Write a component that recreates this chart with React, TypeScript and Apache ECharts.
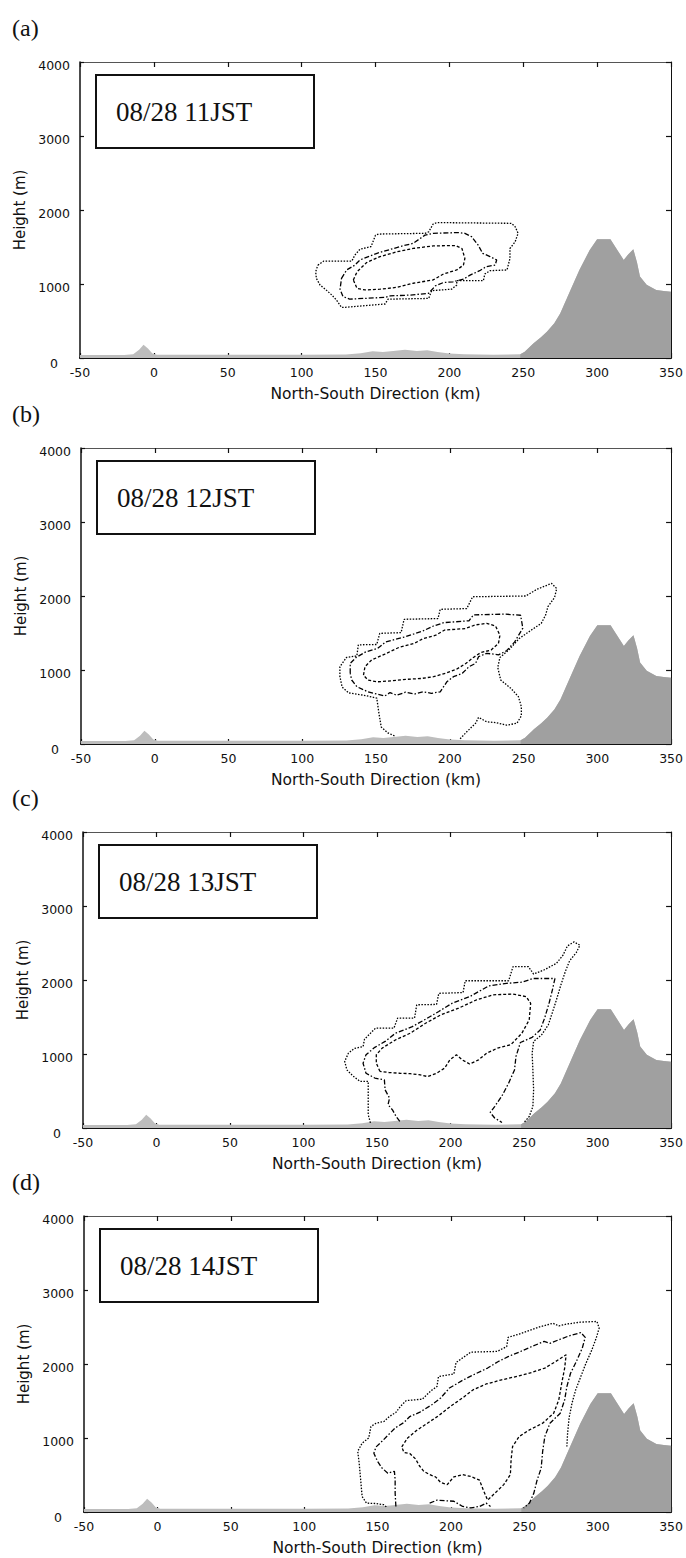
import React, { useEffect, useRef } from "react";
import * as echarts from "echarts";

// ---------- axes ----------
const X_MIN = -50;
const X_MAX = 350;
const X_STEP = 50;
const Y_MIN = 0;
const Y_MAX = 4000;
const Y_STEP = 1000;
const X_TITLE = "North-South Direction (km)";
const Y_TITLE = "Height (m)";

// ---------- panels ----------
const panelLetters = ["(a)", "(b)", "(c)", "(d)"];
const panelTimes = ["08/28 11JST", "08/28 12JST", "08/28 13JST", "08/28 14JST"];

// ---------- terrain (km, m) ----------
const terrainKm = [-50, -20, -14, -10, -7, -4, -1, 2, 40, 100, 130, 140, 148, 155, 162, 170, 178, 185, 192, 200, 210, 230, 248, 251, 257, 262, 266, 271, 275, 282, 288, 295, 300, 309, 313, 318, 321, 324.5, 327, 329, 333.5, 340, 345, 350];
const terrainM = [40, 42, 50, 110, 180, 130, 60, 45, 45, 45, 48, 65, 90, 80, 95, 110, 95, 105, 80, 60, 50, 45, 50, 85, 200, 280, 355, 470, 600, 920, 1190, 1460, 1605, 1605, 1480, 1325, 1400, 1470, 1290, 1100, 990, 920, 905, 895];
const mountainStartKm = 248;

// ---------- contours [km, m] ----------
const aOuter = [[111,1255],[115,1310],[134,1310],[136,1390],[139.5,1470],[147,1505],[150,1660],[152,1675],[183.5,1685],[186,1705],[189,1810],[191.5,1830],[242,1820],[244.5,1775],[246.5,1685],[244.5,1570],[241,1480],[241,1345],[239,1190],[227.5,1180],[224,1135],[223,1045],[205,1045],[205,985],[201.5,930],[188,910],[186,805],[158.5,795],[156.5,730],[129.5,685],[127,685],[123.5,785],[120.5,850],[116,930],[112.5,985],[110,1075],[109.5,1165],[111,1255]];
const aMiddle = [[127,1075],[130.5,1190],[136,1255],[139.5,1325],[151,1415],[166.5,1505],[175.5,1550],[183.5,1660],[189,1685],[206,1695],[210.5,1685],[215,1640],[219.5,1525],[222.5,1415],[227.5,1370],[232,1325],[231,1255],[225,1235],[220.5,1180],[214,1120],[209.5,1065],[202.5,1030],[196,1020],[190.5,975],[186,875],[173.5,850],[160,840],[156.5,820],[132.5,795],[128,830],[126,930],[127,1075]];
const aInner = [[135,1055],[137.5,1165],[144,1290],[153,1370],[164.5,1435],[175.5,1480],[189,1515],[204,1520],[208.5,1480],[210.5,1345],[209.5,1255],[205,1190],[196,1135],[189,1055],[175.5,1010],[164.5,955],[153,930],[143,920],[137.5,940],[135,1055]];

const bOuter = [[162.5,110],[158,150],[153.5,230],[152,410],[150.5,620],[141.5,660],[131.5,690],[127,770],[125.5,910],[125.5,1045],[130,1170],[137,1190],[138,1340],[150.5,1345],[152.5,1495],[167,1505],[169,1685],[192,1695],[193.5,1820],[211.5,1830],[215.5,1990],[251.5,2000],[259,2090],[269,2170],[272.5,2100],[271,1980],[266.5,1855],[265,1745],[262,1630],[256,1550],[247,1425],[240,1270],[234,1170],[232.5,1035],[234.5,865],[241.5,750],[246.5,640],[248.5,505],[248.5,380],[245.5,280],[238.5,255],[231,290],[225,300],[219.5,360],[217.5,280],[211.5,165],[206.5,60]];
const bMiddle = [[132.5,955],[132.5,1090],[136.5,1170],[143,1245],[151,1290],[156.5,1380],[170,1450],[182,1530],[189,1595],[196,1640],[213,1665],[216,1745],[237,1755],[248,1740],[249.5,1565],[244,1380],[238.5,1260],[233,1205],[229.5,1215],[225,1225],[219.5,1180],[217.5,1090],[213,1045],[208.5,955],[202.5,910],[198,840],[193.5,705],[187.5,685],[182,705],[176,675],[170,700],[164,660],[159.5,695],[156,650],[150.5,675],[144.5,705],[137,775],[133.5,865],[132.5,955]];
const bInner = [[141.5,930],[142.5,1045],[147,1135],[156,1215],[165.5,1305],[176,1360],[182,1425],[190.5,1470],[196.5,1540],[210.5,1560],[217.5,1610],[225,1630],[231,1595],[234,1470],[233,1360],[228,1270],[221,1235],[216,1170],[211,1090],[204.5,1010],[197,955],[189,910],[180.5,885],[171.5,875],[161,855],[150.5,840],[144.5,865],[141.5,930]];

const cOuter = [[145.5,70],[144,180],[144,630],[138.5,630],[133.5,705],[129.5,785],[128,900],[130.5,1010],[134.5,1075],[140.5,1100],[141.5,1200],[149,1350],[161.5,1350],[164,1485],[175.5,1485],[177,1665],[190.5,1670],[192,1820],[208.5,1830],[210,1990],[239.5,1990],[242.5,2180],[253,2180],[256.5,2080],[263.5,2135],[272,2225],[276.5,2335],[279.5,2460],[284,2515],[288,2470],[285.5,2370],[281,2260],[278,2110],[275,1930],[272,1730],[269.5,1575],[266.5,1395],[262,1260],[256.5,1170],[255.5,1010],[256,785],[256.5,515],[256,290],[253.5,155],[250,75]];
const cMiddle = [[165.5,90],[163,155],[160.5,245],[157.5,315],[158.5,405],[155.5,515],[155,650],[148.5,675],[142.5,740],[140.5,875],[142.5,990],[148.5,1090],[155.5,1170],[162.5,1280],[174,1370],[183,1470],[192,1575],[201,1685],[213,1775],[226,1920],[238,1955],[248.5,1970],[256,2020],[271,2020],[269.5,1885],[267,1685],[264,1485],[261,1325],[255.5,1225],[247.5,1155],[244.5,965],[243.5,785],[239.5,605],[235,435],[230,290],[227,210],[230,135],[235,75]];
const cInner = [[152,765],[149.5,875],[149.5,990],[153.5,1080],[162.5,1190],[172.5,1280],[183,1415],[193.5,1530],[205.5,1620],[217.5,1730],[229,1800],[242.5,1810],[251.5,1775],[254.5,1685],[253.5,1460],[248.5,1280],[241,1125],[232,1080],[224.5,1010],[219,920],[213,865],[208,920],[204,990],[199.5,920],[196,810],[190.5,740],[184.5,695],[178.5,720],[172.5,735],[165.5,740],[158,750],[152,765]];

const dOuter = [[156,70],[154,100],[148.5,115],[142.5,120],[139.5,210],[138.5,435],[137.5,660],[136.5,820],[139.5,930],[144,1000],[145.5,1155],[149,1200],[154.5,1225],[158,1290],[162.5,1345],[165.5,1425],[169.5,1505],[180.5,1525],[186.5,1640],[190.5,1695],[191.5,1830],[202,1865],[203.5,2020],[213.5,2160],[231.5,2170],[238,2235],[239,2360],[246.5,2405],[261,2505],[269.5,2550],[273.5,2515],[279,2540],[288,2565],[299.5,2575],[301,2485],[299,2350],[296,2190],[292,2010],[288.5,1830],[285,1650],[282.5,1470],[280.5,1270],[279.5,1065],[279,885]];
const dMiddle = [[162.5,75],[162,255],[162,435],[161.5,550],[157,525],[153,595],[150,685],[147.5,795],[149,880],[153,955],[157.5,1045],[162,1135],[168,1210],[172,1290],[178.5,1345],[187,1450],[193,1540],[199,1675],[208,1780],[216.5,1865],[225,1945],[232,2030],[239,2100],[247,2165],[255,2235],[263.5,2305],[267.5,2280],[274.5,2335],[280.5,2380],[288.5,2425],[291.5,2360],[289.5,2215],[285.5,2035],[281.5,1875],[279,1695],[277.5,1515],[274.5,1335],[267.5,1200],[264,1020],[262.5,820],[261.5,595],[258.5,415],[256.5,255],[253.5,120],[249.5,55]];
const dInner = [[166.5,880],[170.5,1000],[176.5,1100],[184,1200],[191.5,1300],[199.5,1425],[208.5,1550],[215,1650],[224,1730],[234.5,1785],[246.5,1840],[255,1885],[264,1945],[271.5,2035],[278.5,2125],[277.5,1945],[275.5,1740],[273.5,1515],[270,1335],[262.5,1200],[253.5,1110],[246.5,1020],[242,885],[241,705],[240.5,505],[236,370],[230,255],[225,160],[222,300],[219.5,430],[213.5,480],[208,505],[202,475],[197.5,370],[193,400],[189.5,475],[185.5,505],[181.5,550],[178.5,625],[176,715],[172,790],[168,805],[166.5,880]];
const dBase = [[185.5,120],[190.5,160],[202,145],[208,75],[213.5,55],[219.5,75],[224,120],[227,75]];

const panelContours = [
  { outer: aOuter, middle: aMiddle, inner: aInner, extra: [] as number[][] },
  { outer: bOuter, middle: bMiddle, inner: bInner, extra: [] as number[][] },
  { outer: cOuter, middle: cMiddle, inner: cInner, extra: [] as number[][] },
  { outer: dOuter, middle: dMiddle, inner: dInner, extra: dBase },
];

// ---------- layout ----------
const GRIDS = [
  { left: 80, top: 62, width: 591 },
  { left: 81, top: 448, width: 592 },
  { left: 83, top: 832, width: 592 },
  { left: 84, top: 1216, width: 592 },
];
const GRID_H = 296;

const SANS = "DejaVu Sans";
const SERIF = "Liberation Serif";
const INK = "#111";

function buildOption() {
  const grid: any[] = [];
  const xAxis: any[] = [];
  const yAxis: any[] = [];
  const series: any[] = [];
  const graphic: any[] = [];

  const terrain = terrainKm.map((x, k) => [x, terrainM[k]]);
  const mountain = terrain.filter((p) => p[0] >= mountainStartKm);

  GRIDS.forEach((g, i) => {
    grid.push({ left: g.left, top: g.top, width: g.width, height: GRID_H, containLabel: false });

    xAxis.push({
      type: "value", gridIndex: i, min: X_MIN, max: X_MAX, interval: X_STEP, position: "bottom",
      name: X_TITLE, nameLocation: "middle", nameGap: 28,
      nameTextStyle: { fontFamily: SANS, fontSize: 15.5, color: INK },
      axisLine: { show: true, onZero: false, lineStyle: { color: INK, width: 2 } },
      axisTick: { show: true, inside: true, length: 5, lineStyle: { color: INK, width: 1.2 } },
      axisLabel: { show: true, margin: 8, fontFamily: SANS, fontSize: 12.5, color: INK, showMinLabel: true, showMaxLabel: true },
      splitLine: { show: false },
    });
    xAxis.push({
      type: "value", gridIndex: i, min: X_MIN, max: X_MAX, interval: X_STEP, position: "top",
      axisLine: { show: true, onZero: false, lineStyle: { color: "#555", width: 1 } },
      axisTick: { show: true, inside: true, length: 5, lineStyle: { color: INK, width: 1.2 } },
      axisLabel: { show: false },
      splitLine: { show: false },
    });
    yAxis.push({
      type: "value", gridIndex: i, min: Y_MIN, max: Y_MAX, interval: Y_STEP, position: "left",
      name: Y_TITLE, nameLocation: "middle", nameGap: 41, nameRotate: 90,
      nameTextStyle: { fontFamily: SANS, fontSize: 15, color: INK },
      axisLine: { show: true, onZero: false, lineStyle: { color: INK, width: 1.5 } },
      axisTick: { show: true, inside: true, length: 4, lineStyle: { color: INK, width: 1.2 } },
      axisLabel: {
        show: true, margin: 10,
        formatter: (v: number) => (v === 0 ? "{z|0}" : `{n|${v}}`),
        rich: {
          n: { fontFamily: SANS, fontSize: 12.5, color: INK, padding: [6, 0, 0, 0] },
          z: { fontFamily: SANS, fontSize: 12.5, color: INK, padding: [10, 12, 0, 0] },
        },
      },
      splitLine: { show: false },
    });
    yAxis.push({
      type: "value", gridIndex: i, min: Y_MIN, max: Y_MAX, interval: Y_STEP, position: "right",
      axisLine: { show: true, onZero: false, lineStyle: { color: INK, width: 1 } },
      axisTick: { show: true, inside: true, length: 5, lineStyle: { color: INK, width: 1.2 } },
      axisLabel: { show: false },
      splitLine: { show: false },
    });

    const xi = i * 2;
    const yi = i * 2;
    series.push({
      type: "line", xAxisIndex: xi, yAxisIndex: yi, data: terrain, symbol: "none", silent: true,
      lineStyle: { width: 0 }, areaStyle: { color: "#bdbdbd", opacity: 1 }, z: 1,
    });
    series.push({
      type: "line", xAxisIndex: xi, yAxisIndex: yi, data: mountain, symbol: "none", silent: true,
      lineStyle: { width: 0 }, areaStyle: { color: "#a0a0a0", opacity: 1 }, z: 2,
    });
    const c = panelContours[i];
    const styles = [
      { d: c.outer, type: [1.5, 1.5] },
      { d: c.middle, type: [5, 2, 1.5, 2] },
      { d: c.inner, type: [3, 2] },
      { d: c.extra, type: [5, 2, 1.5, 2] },
    ];
    styles.forEach((s) => {
      if (!s.d.length) return;
      series.push({
        type: "line", xAxisIndex: xi, yAxisIndex: yi, data: s.d, symbol: "none", silent: true, z: 5,
        lineStyle: { color: "#000", width: 1.3, type: s.type },
      });
    });

    graphic.push({
      type: "text", left: 12, top: g.top - 46, z: 10,
      style: { text: panelLetters[i], font: `24px '${SERIF}'`, fill: INK },
    });
    graphic.push({
      type: "rect", z: 10,
      shape: { x: g.left + 16, y: g.top + 13, width: 218, height: 73 },
      style: { fill: "#fff", stroke: INK, lineWidth: 2 },
    });
    graphic.push({
      type: "text", z: 11, x: g.left + 36, y: g.top + 50,
      style: { text: panelTimes[i], font: `27px '${SERIF}'`, fill: INK, textVerticalAlign: "middle", verticalAlign: "middle" },
    });
  });

  return { animation: false, backgroundColor: "#fff", grid, xAxis, yAxis, series, graphic };
}

export default function App() {
  const ref = useRef<HTMLDivElement>(null);
  useEffect(() => {
    const chart = echarts.init(ref.current!, null, { renderer: "svg" });
    chart.setOption(buildOption() as any);
    return () => chart.dispose();
  }, []);
  return (
    <div
      ref={ref}
      style={{ position: "absolute", left: 0, top: 0, width: 686, height: 1558, background: "#fff" }}
    />
  );
}
